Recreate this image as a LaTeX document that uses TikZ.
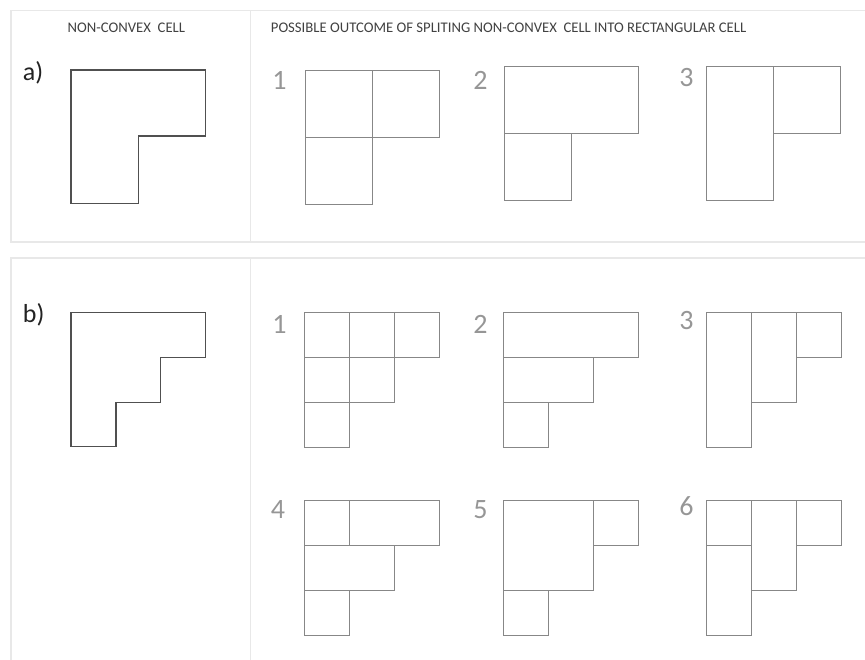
\documentclass[tikz,border=0pt]{standalone}
\usepackage{fontspec}
\setmainfont{Carlito}
\usepackage{xcolor}
\usepackage{tikz}
\definecolor{framegray}{RGB}{232,232,232}
\definecolor{cellgray}{RGB}{135,135,135}
\definecolor{outlinegray}{RGB}{80,80,80}
\definecolor{numgray}{RGB}{150,150,150}
\definecolor{titlegray}{RGB}{65,65,65}
\definecolor{tagblack}{RGB}{35,35,35}

\tikzset{
    panelframe/.style={draw=framegray, line width=1.3pt},
    cellline/.style={draw=cellgray, line width=0.9pt},
    outlineline/.style={draw=outlinegray, line width=1.3pt, line join=miter},
    headtext/.style={text=titlegray, inner sep=0pt, font=\fontsize{14.7}{16}\selectfont},
    tagtext/.style={text=tagblack, inner sep=0pt, anchor=base west, font=\fontsize{26}{28}\selectfont},
    numtext/.style={text=numgray, inner sep=0pt, anchor=base, font=\fontsize{28}{30}\selectfont}
}

% one split outcome: origin x, origin y, unit, list of col/row/width/height
\newcommand{\drawsplit}[4]{%
    \foreach \cx/\cy/\cw/\ch in {#4}
        \draw[cellline] (#1+\cx*#3, #2+\cy*#3) rectangle ++(\cw*#3, \ch*#3);
}

\begin{document}
\begin{tikzpicture}[x=1pt, y=-1pt]
    \clip (0,0) rectangle (865,659);

    % panel frames
    \draw[panelframe] (11,10.7) rectangle (875,242);
    \draw[panelframe] (250.5,10.7) -- (250.5,242);
    \draw[panelframe] (11,258) rectangle (875,680);
    \draw[panelframe] (250.5,258) -- (250.5,680);

    % headings
    \node[headtext, anchor=base] (headleft) at (126.4,32) {NON-CONVEX\ \ CELL};
    \node[headtext, anchor=base west] (headright) at (270.7,32) {POSSIBLE OUTCOME OF SPLITING NON-CONVEX\ \ CELL INTO RECTANGULAR CELL};

    % row a
    \node[tagtext] (taga) at (22.7,80) {a)};
    \draw[outlineline] (71,70) -- (205.5,70) -- (205.5,136) -- (138.3,136) -- (138.3,203.3) -- (71,203.3) -- cycle;

    \node[numtext] (a1) at (279.5,89) {1};
    \drawsplit{305}{70}{67}{0/0/1/1, 1/0/1/1, 0/1/1/1}
    \node[numtext] (a2) at (480.5,89) {2};
    \drawsplit{504}{66.7}{67}{0/0/2/1, 0/1/1/1}
    \node[numtext] (a3) at (686.5,86) {3};
    \drawsplit{706.7}{66}{67}{0/0/1/2, 1/0/1/1}

    % row b
    \node[tagtext] (tagb) at (22.7,322) {b)};
    \draw[outlineline] (71,312.7) -- (205.7,312.7) -- (205.7,357.3) -- (160.8,357.3) -- (160.8,402.3) -- (116,402.3) -- (116,446.7) -- (71,446.7) -- cycle;

    \node[numtext] (b1) at (279.5,333) {1};
    \drawsplit{304.3}{312.3}{45}{0/0/1/1, 1/0/1/1, 2/0/1/1, 0/1/1/1, 1/1/1/1, 0/2/1/1}
    \node[numtext] (b2) at (480.5,333) {2};
    \drawsplit{503.3}{312.3}{45}{0/0/3/1, 0/1/2/1, 0/2/1/1}
    \node[numtext] (b3) at (686.5,329) {3};
    \drawsplit{706}{312.3}{45}{0/0/1/3, 1/0/1/2, 2/0/1/1}

    \node[numtext] (b4) at (278,518) {4};
    \drawsplit{304.3}{500}{45}{0/0/1/1, 1/0/2/1, 0/1/2/1, 0/2/1/1}
    \node[numtext] (b5) at (480.5,518) {5};
    \drawsplit{503.3}{500}{45}{0/0/2/2, 2/0/1/1, 0/2/1/1}
    \node[numtext] (b6) at (686.5,515) {6};
    \drawsplit{706}{500}{45}{0/0/1/1, 0/1/1/2, 1/0/1/2, 2/0/1/1}
\end{tikzpicture}
\end{document}
